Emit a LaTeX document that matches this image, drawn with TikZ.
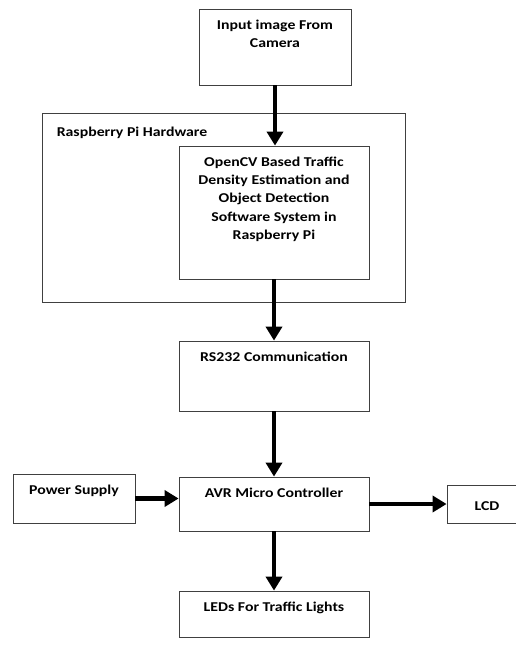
\documentclass[tikz,border=0pt]{standalone}
\usepackage{fontspec}
\setmainfont[FakeStretch=1.17]{Carlito}
\usetikzlibrary{arrows.meta}

\begin{document}
\begin{tikzpicture}[x=1pt, y=-1pt,
  blk/.style={draw=black!75, line width=0.8pt, inner sep=0pt},
  lbl/.style={inner sep=0pt, align=center,
    font=\fontsize{13.5}{18.3}\selectfont\bfseries},
  txt/.style={lbl, anchor=north, yshift=-11pt},
  flow/.style={line width=4.5pt, -{Triangle[width=16pt,length=14pt]}}]
  \useasboundingbox (0,0) rectangle (515,648);

  % blocks
  \node[blk, minimum width=152pt, minimum height=76pt] (cam) at (275,47) {};
  \node[txt] (camtext) at (cam.north) {Input image From\\Camera};

  \node[blk, minimum width=363pt, minimum height=189pt] (rpi) at (223.5,207.5) {};
  \node[lbl, anchor=north west, xshift=15pt, yshift=-14pt] (rpitext) at (rpi.north west) {Raspberry Pi Hardware};

  \node[blk, minimum width=190pt, minimum height=133pt] (ocv) at (274,212.5) {};
  \node[txt] (ocvtext) at (ocv.north) {OpenCV Based Traffic\\Density Estimation and\\Object Detection\\Software System in\\Raspberry Pi};

  \node[blk, minimum width=190pt, minimum height=70pt] (rs) at (274,376) {};
  \node[txt] (rstext) at (rs.north) {RS232 Communication};

  \node[blk, minimum width=190pt, minimum height=54pt] (avr) at (274,504) {};
  \node[txt] (avrtext) at (avr.north) {AVR Micro Controller};

  \node[blk, minimum width=122pt, minimum height=49pt] (pwr) at (74,498.5) {};
  \node[txt] (pwrtext) at (pwr.north) {Power Supply};

  \node[blk, minimum width=80pt, minimum height=38pt] (lcd) at (487,504) {};
  \node[lbl, yshift=-2pt] (lcdtext) at (lcd.center) {LCD};

  \node[blk, minimum width=190pt, minimum height=46pt] (leds) at (274,614) {};
  \node[txt] (ledstext) at (leds.north) {LEDs For Traffic Lights};

  % arrows
  \draw[flow] (cam.south) -- (cam.south |- ocv.north);
  \draw[flow] (ocv.south) -- (rs.north);
  \draw[flow] (rs.south) -- (avr.north);
  \draw[flow] (pwr.east) -- (pwr.east -| avr.west);
  \draw[flow] (lcd.west -| avr.east) -- (lcd.west);
  \draw[flow] (avr.south) -- (leds.north);
\end{tikzpicture}
\end{document}
